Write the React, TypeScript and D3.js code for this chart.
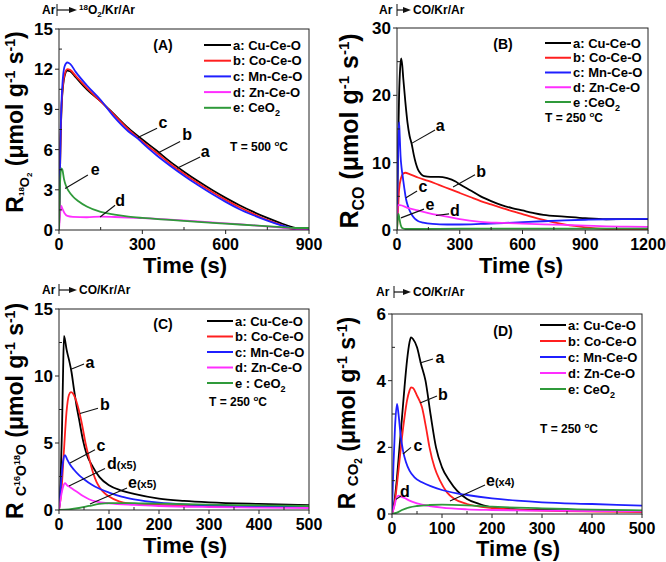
import React from 'react';
import * as d3 from 'd3';

type Pt = [number, number];

const FONT = 'Arial, "Liberation Sans", Helvetica, sans-serif';
const seriesColors = ['#000000', '#ff1f1f', '#1f1fff', '#ff2eff', '#2f9a3a'];

// ---------- Panel A : 18O2 ----------
const A_Cu: Pt[] = [[0,0],[5,6],[10,9.5],[20,11.5],[30,11.9],[40,11.85],[60,11.4],[100,10.5],[150,9.6],[200,8.6],[250,7.6],[300,6.75],[350,5.95],[400,5.1],[450,4.35],[500,3.65],[550,3.0],[600,2.4],[650,1.85],[700,1.35],[750,0.9],[800,0.5],[850,0.15],[880,0.02],[900,0.05]];
const A_Co: Pt[] = [[0,0],[5,6],[10,9.6],[20,11.6],[30,12.0],[40,11.95],[60,11.5],[100,10.6],[150,9.6],[200,8.55],[250,7.5],[300,6.6],[357,5.67],[400,4.95],[450,4.2],[500,3.5],[550,2.85],[600,2.25],[650,1.7],[700,1.2],[750,0.75],[800,0.38],[850,0.05],[900,0.03]];
const A_Mn: Pt[] = [[0,0],[5,6.5],[10,10],[20,12.2],[30,12.5],[40,12.4],[60,11.8],[100,10.8],[150,9.7],[200,8.4],[250,7.35],[285,6.8],[300,6.5],[350,5.6],[400,4.8],[450,4.05],[500,3.35],[550,2.7],[600,2.1],[650,1.55],[700,1.1],[750,0.7],[800,0.35],[850,0.07],[870,0.0],[900,0.05]];
const A_Zn: Pt[] = [[0,0],[4,1.2],[8,1.8],[12,1.6],[20,1.25],[30,1.05],[50,0.98],[100,0.95],[150,1.0],[200,0.97],[250,0.93],[300,0.88],[400,0.78],[500,0.65],[600,0.5],[700,0.35],[800,0.18],[850,0.08],[880,0.05],[900,0.1]];
const A_CeO2: Pt[] = [[0,0],[3,3],[8,4.6],[12,4.5],[18,3.8],[25,3.3],[35,2.9],[50,2.5],[70,2.15],[100,1.75],[150,1.35],[200,1.15],[250,1.0],[300,0.9],[400,0.75],[500,0.6],[600,0.47],[700,0.35],[800,0.22],[850,0.15],[900,0.15]];

// ---------- Panel B : CO ----------
const B_Cu: Pt[] = [[0,0],[5,12],[10,20],[15,24],[20,25.5],[25,24.5],[30,22.5],[40,19],[50,16],[60,14],[70,12.8],[80,11.2],[90,9.9],[100,9.0],[115,8.3],[130,8.0],[160,7.9],[200,7.9],[240,7.7],[280,7.2],[300,6.8],[350,5.9],[400,5.0],[450,4.3],[500,3.7],[550,3.25],[600,2.9],[650,2.55],[700,2.25],[800,2.0],[900,1.75],[1000,1.6],[1100,1.62],[1200,1.6]];
const B_Co: Pt[] = [[0,0],[5,3],[10,6],[20,7.8],[30,8.4],[40,8.5],[60,8.3],[100,7.8],[150,7.3],[200,6.7],[250,6.1],[300,5.5],[350,4.9],[400,4.3],[450,3.8],[500,3.3],[550,2.8],[600,2.35],[650,1.9],[700,1.5],[750,1.15],[800,0.85],[850,0.6],[900,0.4],[950,0.25],[1000,0.15],[1050,0.08],[1100,0.05],[1200,0.05]];
const B_Mn: Pt[] = [[0,0],[3,8],[7,14],[10,16],[13,14],[17,11],[22,9.2],[28,7.8],[35,6.2],[43,4.6],[55,3.3],[70,2.3],[85,1.7],[100,1.35],[125,1.1],[170,0.9],[240,0.82],[300,0.82],[400,0.9],[555,1.1],[700,1.3],[800,1.42],[900,1.52],[1000,1.6],[1100,1.63],[1200,1.65]];
const B_Zn: Pt[] = [[0,0],[3,3.7],[14,3.7],[50,3.3],[100,2.9],[150,2.5],[200,2.2],[239,2.0],[300,1.6],[400,1.2],[500,1.05],[600,0.95],[700,0.85],[800,0.75],[900,0.65],[1000,0.55],[1100,0.5],[1200,0.45]];
const B_CeO2: Pt[] = [[0,0],[3,1.5],[7,2.4],[12,1.6],[18,0.7],[25,0.3],[40,0.15],[100,0.15],[300,0.2],[600,0.2],[900,0.2],[1200,0.2]];

// ---------- Panel C : C16O18O ----------
const C_Cu: Pt[] = [[0,0],[3,2],[6,6],[8,10],[10,13],[12,12.7],[15,12],[20,11.2],[25,10.3],[30,9.0],[35,7.8],[40,6.8],[48,5.2],[55,4.2],[68,3.2],[81,2.45],[100,1.85],[125,1.45],[150,1.2],[200,0.85],[250,0.68],[300,0.57],[400,0.45],[500,0.37]];
const C_Co: Pt[] = [[0,0],[5,1.5],[10,4.5],[15,7.3],[20,8.6],[24,8.8],[28,8.7],[33,8.3],[40,7.4],[47,6.2],[53,5.0],[60,3.9],[68,2.8],[75,2.1],[82,1.65],[90,1.3],[100,1.0],[120,0.65],[140,0.5],[200,0.38],[300,0.3],[400,0.25],[500,0.22]];
const C_Mn: Pt[] = [[0,0],[4,2],[8,3.6],[12,4.1],[16,3.8],[22,3.4],[30,3.0],[40,2.6],[50,2.3],[65,1.9],[80,1.6],[100,1.3],[125,1.0],[150,0.8],[200,0.55],[250,0.42],[300,0.35],[400,0.27],[500,0.22]];
const C_Zn: Pt[] = [[0,0],[4,1.0],[8,1.7],[12,2.0],[16,1.85],[22,1.7],[30,1.5],[40,1.25],[50,1.0],[60,0.8],[75,0.62],[100,0.5],[150,0.38],[200,0.3],[300,0.22],[400,0.18],[500,0.15]];
const C_CeO2: Pt[] = [[0,0],[20,0.05],[40,0.15],[60,0.3],[80,0.45],[100,0.52],[130,0.52],[160,0.5],[200,0.47],[300,0.4],[400,0.35],[500,0.3]];

// ---------- Panel D : CO2 ----------
const D_Cu: Pt[] = [[0,0],[5,0.4],[10,1.1],[15,2.0],[20,2.9],[25,3.8],[30,4.6],[35,5.15],[38,5.3],[42,5.25],[50,5.0],[58,4.5],[67,4.0],[77,3.0],[88,2.0],[100,1.4],[115,1.0],[130,0.7],[150,0.45],[175,0.3],[200,0.2],[250,0.14],[300,0.12],[400,0.1],[500,0.08]];
const D_Co: Pt[] = [[0,0],[5,0.3],[10,0.9],[15,1.6],[20,2.3],[25,2.9],[30,3.4],[35,3.7],[38,3.8],[42,3.78],[50,3.55],[60,3.2],[68,2.6],[75,2.0],[85,1.4],[96,1.0],[110,0.65],[125,0.45],[150,0.3],[200,0.18],[300,0.1],[500,0.06]];
const D_Mn: Pt[] = [[0,0],[3,1.5],[6,2.6],[10,3.3],[13,3.0],[17,2.4],[22,1.9],[28,1.55],[35,1.3],[45,1.1],[60,0.95],[80,0.82],[100,0.72],[130,0.62],[150,0.57],[200,0.47],[250,0.4],[300,0.35],[400,0.3],[500,0.25]];
const D_Zn: Pt[] = [[0,0],[5,0.25],[9,0.48],[13,0.55],[18,0.52],[25,0.48],[35,0.4],[50,0.32],[75,0.24],[100,0.19],[150,0.14],[200,0.12],[300,0.1],[400,0.09],[500,0.08]];
const D_CeO2: Pt[] = [[0,0],[10,0.04],[20,0.12],[35,0.2],[50,0.24],[75,0.27],[100,0.28],[150,0.26],[200,0.22],[250,0.19],[300,0.17],[350,0.15],[400,0.13],[500,0.11]];

// ---------- ticks ----------
const A_xTicks = [0, 300, 600, 900];
const A_yTicks = [0, 3, 6, 9, 12, 15];
const B_xTicks = [0, 300, 600, 900, 1200];
const B_yTicks = [0, 10, 20, 30];
const C_xTicks = [0, 100, 200, 300, 400, 500];
const C_yTicks = [0, 5, 10, 15];
const D_xTicks = [0, 100, 200, 300, 400, 500];
const D_yTicks = [0, 2, 4, 6];

// ---------- legends ----------
const legendA = ['a: Cu-Ce-O', 'b: Co-Ce-O', 'c: Mn-Ce-O', 'd: Zn-Ce-O', 'e: CeO2'];
const legendB = ['a: Cu-Ce-O', 'b: Co-Ce-O', 'c: Mn-Ce-O', 'd: Zn-Ce-O', 'e :CeO2'];
const legendC = ['a: Cu-Ce-O', 'b: Co-Ce-O', 'c: Mn-Ce-O', 'd: Zn-Ce-O', 'e : CeO2'];
const legendD = ['a: Cu-Ce-O', 'b: Co-Ce-O', 'c: Mn-Ce-O', 'd: Zn-Ce-O', 'e: CeO2'];

interface Ann { label: string; extra?: string; tx: number; ty: number; x1: number; y1: number; x2: number; y2: number; anchor: 'middle' | 'start' }
interface Seg { t: string; s: number; b: number }

const annA: Ann[] = [
  { label: 'c', tx: 374, ty: 8.0, x1: 353, y1: 7.6, x2: 284, y2: 6.9, anchor: 'middle' },
  { label: 'b', tx: 461, ty: 7.1, x1: 436, y1: 6.6, x2: 356, y2: 5.75, anchor: 'middle' },
  { label: 'a', tx: 526, ty: 5.8, x1: 508, y1: 5.45, x2: 425, y2: 4.6, anchor: 'middle' },
  { label: 'e', tx: 130, ty: 4.5, x1: 104, y1: 4.1, x2: 22, y2: 3.1, anchor: 'middle' },
  { label: 'd', tx: 220, ty: 2.2, x1: 202, y1: 1.85, x2: 148, y2: 0.97, anchor: 'middle' },
];
const annB: Ann[] = [
  { label: 'a', tx: 206, ty: 15.4, x1: 182, y1: 14.85, x2: 72, y2: 12.9, anchor: 'middle' },
  { label: 'b', tx: 402, ty: 8.6, x1: 373, y1: 8.2, x2: 268, y2: 6.4, anchor: 'middle' },
  { label: 'c', tx: 124, ty: 6.4, x1: 96, y1: 5.8, x2: 43, y2: 4.8, anchor: 'middle' },
  { label: 'e', tx: 158, ty: 3.7, x1: 129, y1: 3.1, x2: 19, y2: 1.8, anchor: 'middle' },
  { label: 'd', tx: 277, ty: 2.8, x1: 249, y1: 2.4, x2: 186, y2: 2.15, anchor: 'middle' },
];
const annC: Ann[] = [
  { label: 'a', tx: 62, ty: 11.0, x1: 50, y1: 10.9, x2: 24, y2: 10.5, anchor: 'middle' },
  { label: 'b', tx: 92, ty: 7.8, x1: 78, y1: 7.6, x2: 42, y2: 7.2, anchor: 'middle' },
  { label: 'c', tx: 84, ty: 4.75, x1: 72, y1: 4.5, x2: 22, y2: 3.5, anchor: 'middle' },
  { label: 'd', extra: '(x5)', tx: 96, ty: 3.45, x1: 92, y1: 3.1, x2: 20, y2: 1.8, anchor: 'start' },
  { label: 'e', extra: '(x5)', tx: 138, ty: 2.0, x1: 136, y1: 1.65, x2: 62, y2: 0.45, anchor: 'start' },
];
const annD: Ann[] = [
  { label: 'a', tx: 96, ty: 4.68, x1: 82, y1: 4.65, x2: 56, y2: 4.53, anchor: 'middle' },
  { label: 'b', tx: 102, ty: 3.57, x1: 90, y1: 3.54, x2: 56, y2: 3.33, anchor: 'middle' },
  { label: 'c', tx: 52, ty: 2.04, x1: 38, y1: 2.0, x2: 22, y2: 1.8, anchor: 'middle' },
  { label: 'd', tx: 26, ty: 0.66, x1: 18, y1: 0.54, x2: 8, y2: 0.44, anchor: 'middle' },
  { label: 'e', extra: '(x4)', tx: 188, ty: 0.99, x1: 186, y1: 0.87, x2: 116, y2: 0.39, anchor: 'start' },
];

const titleA: Seg[] = [
  { t: 'R', s: 23, b: 0 }, { t: '18', s: 8, b: 1 }, { t: 'O', s: 13, b: 6 }, { t: '2', s: 8, b: 9 },
  { t: ' (\u03bcmol g', s: 23, b: 0 }, { t: '-1', s: 14, b: -8 }, { t: ' s', s: 23, b: 0 }, { t: '-1', s: 14, b: -8 }, { t: ')', s: 23, b: 0 },
];
const titleB: Seg[] = [
  { t: 'R', s: 25, b: 0 }, { t: 'CO', s: 16, b: 6 },
  { t: ' (\u03bcmol g', s: 25, b: 0 }, { t: '-1', s: 15, b: -9 }, { t: ' s', s: 25, b: 0 }, { t: '-1', s: 15, b: -9 }, { t: ')', s: 25, b: 0 },
];
const titleC: Seg[] = [
  { t: 'R ', s: 23, b: 0 }, { t: 'C', s: 14, b: 3 }, { t: '16', s: 9, b: -3 }, { t: 'O', s: 14, b: 3 }, { t: '18', s: 9, b: -3 }, { t: 'O', s: 14, b: 3 },
  { t: ' (\u03bcmol g', s: 23, b: 0 }, { t: '-1', s: 14, b: -8 }, { t: ' s', s: 23, b: 0 }, { t: '-1', s: 14, b: -8 }, { t: ')', s: 23, b: 0 },
];
const titleD: Seg[] = [
  { t: 'R ', s: 23, b: 0 }, { t: 'CO', s: 15, b: 3 }, { t: '2', s: 10, b: 7 },
  { t: ' (\u03bcmol g', s: 23, b: 0 }, { t: '-1', s: 14, b: -8 }, { t: ' s', s: 23, b: 0 }, { t: '-1', s: 14, b: -8 }, { t: ')', s: 23, b: 0 },
];

interface PanelCfg {
  key: string;
  box: [number, number, number, number];
  xMax: number; yMax: number;
  xTicks: number[]; yTicks: number[]; xMinor: number; yMinor: number;
  series: Pt[][];
  legend: string[];
  legendPos: [number, number, number, number, number];
  tag: string; tagPos: [number, number];
  temp: string; tempPos: [number, number];
  ann: Ann[];
  title: Seg[]; titlePos: [number, number];
  xTitlePos: [number, number];
  gas: 'O2' | 'CO'; notePos: [number, number, number, number];
}

const panels: PanelCfg[] = [
  { key: 'A', box: [59, 29, 309, 230], xMax: 900, yMax: 15, xTicks: A_xTicks, yTicks: A_yTicks, xMinor: 150, yMinor: 1.5,
    series: [A_Cu, A_Co, A_Mn, A_Zn, A_CeO2], legend: legendA, legendPos: [204, 231, 233, 45, 15.7],
    tag: '(A)', tagPos: [163, 45], temp: '500', tempPos: [230, 146], ann: annA, title: titleA, titlePos: [23, 122],
    xTitlePos: [185, 273], gas: 'O2', notePos: [42, 57, 79, 14] },
  { key: 'B', box: [397, 28, 648, 230], xMax: 1200, yMax: 30, xTicks: B_xTicks, yTicks: B_yTicks, xMinor: 150, yMinor: 5,
    series: [B_Cu, B_Co, B_Mn, B_Zn, B_CeO2], legend: legendB, legendPos: [545, 571, 573, 43, 14.75],
    tag: '(B)', tagPos: [503, 44], temp: '250', tempPos: [545, 117], ann: annB, title: titleB, titlePos: [358, 131],
    xTitlePos: [521, 273], gas: 'CO', notePos: [379, 397, 413, 14] },
  { key: 'C', box: [59, 309, 309, 510], xMax: 500, yMax: 15, xTicks: C_xTicks, yTicks: C_yTicks, xMinor: 50, yMinor: 2.5,
    series: [C_Cu, C_Co, C_Mn, C_Zn, C_CeO2], legend: legendC, legendPos: [207, 233, 235, 321, 15.5],
    tag: '(C)', tagPos: [163, 324], temp: '250', tempPos: [209, 401], ann: annC, title: titleC, titlePos: [23, 411],
    xTitlePos: [185, 553], gas: 'CO', notePos: [42, 59, 79, 294] },
  { key: 'D', box: [392, 314, 642, 514], xMax: 500, yMax: 6, xTicks: D_xTicks, yTicks: D_yTicks, xMinor: 50, yMinor: 1,
    series: [D_Cu, D_Co, D_Mn, D_Zn, D_CeO2], legend: legendD, legendPos: [540, 566, 568, 325, 16],
    tag: '(D)', tagPos: [503, 331], temp: '250', tempPos: [540, 428], ann: annD, title: titleD, titlePos: [355, 413],
    xTitlePos: [518, 556], gas: 'CO', notePos: [376, 394, 413, 296] },
];

function segTspans(segs: Seg[]) {
  let prev = 0;
  return segs.map((sg, i) => {
    const dy = sg.b - prev;
    prev = sg.b;
    return <tspan key={i} fontSize={sg.s} dy={dy}>{sg.t}</tspan>;
  });
}

function LegendText({ label }: { label: string }) {
  if (label.endsWith('CeO2')) {
    return <>{label.slice(0, -1)}<tspan fontSize={9} dy={4}>2</tspan></>;
  }
  return <>{label}</>;
}

function Panel({ p }: { p: PanelCfg }) {
  const [x0, y0, x1, y1] = p.box;
  const xs = d3.scaleLinear().domain([0, p.xMax]).range([x0, x1]);
  const ys = d3.scaleLinear().domain([0, p.yMax]).range([y1, y0]);
  const line = d3.line<Pt>().x(d => xs(d[0])).y(d => ys(d[1])).curve(d3.curveMonotoneX);
  const xMinorTicks = d3.range(0, p.xMax + 1e-6, p.xMinor).filter(v => !p.xTicks.some(t => Math.abs(t - v) < 1e-6));
  const yMinorTicks = d3.range(0, p.yMax + 1e-6, p.yMinor).filter(v => !p.yTicks.some(t => Math.abs(t - v) < 1e-6));
  const clipId = 'clip' + p.key;
  const [lx0, lx1, ltx, ly0, lstep] = p.legendPos;
  const [arX, barX, noteX, noteY] = p.notePos;
  const mid = noteY - 4;
  return (
    <g>
      <defs>
        <clipPath id={clipId}><rect x={x0} y={y0 - 2} width={x1 - x0 + 2} height={y1 - y0 + 2} /></clipPath>
      </defs>
      <g clipPath={`url(#${clipId})`}>
        {p.series.map((s, i) => (
          <path key={i} d={line(s) || ''} fill="none" stroke={seriesColors[i]} strokeWidth={1.8} strokeLinejoin="round" />
        ))}
      </g>
      <rect x={x0} y={y0} width={x1 - x0} height={y1 - y0} fill="none" stroke="#222" strokeWidth={1} />
      {p.xTicks.map(t => (
        <g key={'xt' + t}>
          <line x1={xs(t)} x2={xs(t)} y1={y1} y2={y1 + 4} stroke="#222" />
          <text x={xs(t)} y={y1 + 20} textAnchor="middle" fontSize={16} fontWeight="bold" fontFamily={FONT}>{t}</text>
        </g>
      ))}
      {xMinorTicks.map(t => <line key={'xm' + t} x1={xs(t)} x2={xs(t)} y1={y1} y2={y1 - 3} stroke="#222" />)}
      {p.yTicks.map(t => (
        <g key={'yt' + t}>
          <line x1={x0 - 4} x2={x0} y1={ys(t)} y2={ys(t)} stroke="#222" />
          <text x={x0 - 6} y={ys(t) + 6} textAnchor="end" fontSize={17} fontWeight="bold" fontFamily={FONT}>{t}</text>
        </g>
      ))}
      {yMinorTicks.map(t => <line key={'ym' + t} x1={x0} x2={x0 + 3} y1={ys(t)} y2={ys(t)} stroke="#222" />)}
      <text x={p.xTitlePos[0]} y={p.xTitlePos[1]} textAnchor="middle" fontSize={22} fontWeight="bold" fontFamily={FONT}>Time (s)</text>
      <text transform={`translate(${p.titlePos[0]},${p.titlePos[1]}) rotate(-90)`} textAnchor="middle" fontWeight="bold" fontFamily={FONT}>
        {segTspans(p.title)}
      </text>
      {p.legend.map((lab, i) => (
        <g key={'lg' + i}>
          <line x1={lx0} x2={lx1} y1={ly0 + i * lstep} y2={ly0 + i * lstep} stroke={seriesColors[i]} strokeWidth={2} />
          <text x={ltx} y={ly0 + i * lstep + 4.5} fontSize={13} fontWeight="bold" fontFamily={FONT}><LegendText label={lab} /></text>
        </g>
      ))}
      <text x={p.tagPos[0]} y={p.tagPos[1] + 5} textAnchor="middle" fontSize={14} fontWeight="bold" fontFamily={FONT}>{p.tag}</text>
      <text x={p.tempPos[0]} y={p.tempPos[1] + 4.5} fontSize={12} fontWeight="bold" fontFamily={FONT}>
        {`T = ${p.temp} `}<tspan fontSize={8} dy={-5}>o</tspan><tspan dy={5}>C</tspan>
      </text>
      {p.ann.map((a, i) => (
        <g key={'an' + i}>
          <line x1={xs(a.x1)} y1={ys(a.y1)} x2={xs(a.x2)} y2={ys(a.y2)} stroke="#111" strokeWidth={1.1} />
          <text x={xs(a.tx)} y={ys(a.ty) + 5} textAnchor={a.anchor} fontSize={16} fontWeight="bold" fontFamily={FONT}>
            {a.label}{a.extra ? <tspan fontSize={11}>{a.extra}</tspan> : null}
          </text>
        </g>
      ))}
      <text x={arX} y={noteY} fontSize={12} fontWeight="bold" fontFamily={FONT}>Ar</text>
      <line x1={barX} x2={barX} y1={mid - 6} y2={mid + 6} stroke="#111" strokeWidth={1} />
      <line x1={barX} x2={noteX - 9} y1={mid} y2={mid} stroke="#111" strokeWidth={1.2} />
      <path d={`M${noteX - 2},${mid} L${noteX - 10},${mid - 3} L${noteX - 10},${mid + 3} Z`} fill="#111" />
      <text x={noteX} y={noteY} fontSize={12} fontWeight="bold" fontFamily={FONT}>
        {p.gas === 'O2'
          ? <><tspan fontSize={8} dy={-4}>18</tspan><tspan dy={4}>O</tspan><tspan fontSize={8} dy={3}>2</tspan><tspan dy={-3}>/Kr/Ar</tspan></>
          : 'CO/Kr/Ar'}
      </text>
    </g>
  );
}

export default function App() {
  return (
    <svg width={666} height={562} style={{ position: 'absolute', left: 0, top: 0, background: '#fff' }}>
      <rect x={0} y={0} width={666} height={562} fill="#fff" />
      {panels.map(p => <Panel key={p.key} p={p} />)}
    </svg>
  );
}
